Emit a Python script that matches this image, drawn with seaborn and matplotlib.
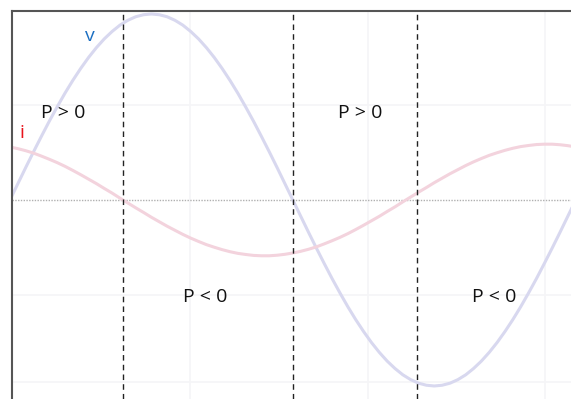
import numpy as np
import pandas as pd
import matplotlib
matplotlib.use("Agg")
import matplotlib.pyplot as plt
import seaborn as sns

# Phase angle (degrees) and the two waveforms sampled along it
angle = list(range(0, 361, 5))
voltage = [0.000, 0.087, 0.174, 0.259, 0.342, 0.423, 0.500, 0.574, 0.643, 0.707,
           0.766, 0.819, 0.866, 0.906, 0.940, 0.966, 0.985, 0.996, 1.000, 0.996,
           0.985, 0.966, 0.940, 0.906, 0.866, 0.819, 0.766, 0.707, 0.643, 0.574,
           0.500, 0.423, 0.342, 0.259, 0.174, 0.087, 0.000,
           -0.087, -0.174, -0.259, -0.342, -0.423, -0.500, -0.574, -0.643, -0.707,
           -0.766, -0.819, -0.866, -0.906, -0.940, -0.966, -0.985, -0.996, -1.000, -0.996,
           -0.985, -0.966, -0.940, -0.906, -0.866, -0.819, -0.766, -0.707, -0.643, -0.574,
           -0.500, -0.423, -0.342, -0.259, -0.174, -0.087, 0.000]
current = [0.285, 0.276, 0.265, 0.252, 0.236, 0.219, 0.201, 0.181, 0.159, 0.136,
           0.112, 0.088, 0.062, 0.037, 0.010, -0.016, -0.042, -0.067, -0.093, -0.117,
           -0.141, -0.163, -0.185, -0.205, -0.223, -0.240, -0.254, -0.267, -0.278, -0.287,
           -0.293, -0.298, -0.300, -0.300, -0.297, -0.292, -0.285,
           -0.276, -0.265, -0.252, -0.236, -0.219, -0.201, -0.181, -0.159, -0.136,
           -0.112, -0.088, -0.062, -0.037, -0.010, 0.016, 0.042, 0.067, 0.093, 0.117,
           0.141, 0.163, 0.185, 0.205, 0.223, 0.240, 0.254, 0.267, 0.278, 0.287,
           0.293, 0.298, 0.300, 0.300, 0.297, 0.292, 0.285]

# Sign changes of the instantaneous power p = v * i
boundaries = [72, 180, 259]
region_labels = ["P > 0", "P < 0", "P > 0", "P < 0"]
label_x = [33.7, 124.4, 222.6, 307.9]
label_y = [0.47, -0.52, 0.47, -0.52]

sns.set_style("white")
plt.rcParams["font.family"] = ["Open Sans", "DejaVu Sans"]

df = pd.DataFrame({"angle": angle, "v": voltage, "i": current})

fig = plt.figure(figsize=(5.71, 3.99), dpi=100)
ax = fig.add_axes([12 / 571, 0, 559 / 571, 388 / 399])

# faint background grid
for gx in [114.5, 227.7, 340.3]:
    ax.axvline(gx, color="#f5f5f7", lw=1.2, zorder=0)
for gy in [0.51, -0.51, -0.98]:
    ax.axhline(gy, color="#f5f5f7", lw=1.2, zorder=0)

ax.axhline(0, color="#b0b0b0", lw=1.0, ls=(0, (1, 1)), zorder=1)

sns.lineplot(data=df, x="angle", y="v", ax=ax, color="#d8d8ef", lw=2.2, zorder=2)
sns.lineplot(data=df, x="angle", y="i", ax=ax, color="#f3d3dd", lw=2.2, zorder=2)

for b in boundaries:
    ax.axvline(b, color="#222222", lw=1.0, ls=(0, (4, 3)), zorder=3)

for txt, x, y in zip(region_labels, label_x, label_y):
    ax.text(x, y, txt, ha="center", va="center", fontsize=14, color="#111111")

ax.text(50.9, 0.88, "v", ha="center", va="center", fontsize=14, color="#1c6fc2")
ax.text(7.6, 0.36, "i", ha="center", va="center", fontsize=14, color="#e8141c")

ax.set_xlim(1.3, 357)
ax.set_ylim(-1.07, 1.016)
ax.set_xticks([])
ax.set_yticks([])
ax.set_xlabel("")
ax.set_ylabel("")
for side in ["right", "bottom"]:
    ax.spines[side].set_visible(False)
for side in ["left", "top"]:
    ax.spines[side].set_color("#555555")
    ax.spines[side].set_linewidth(1.5)

fig.savefig("out.png", dpi=100)
